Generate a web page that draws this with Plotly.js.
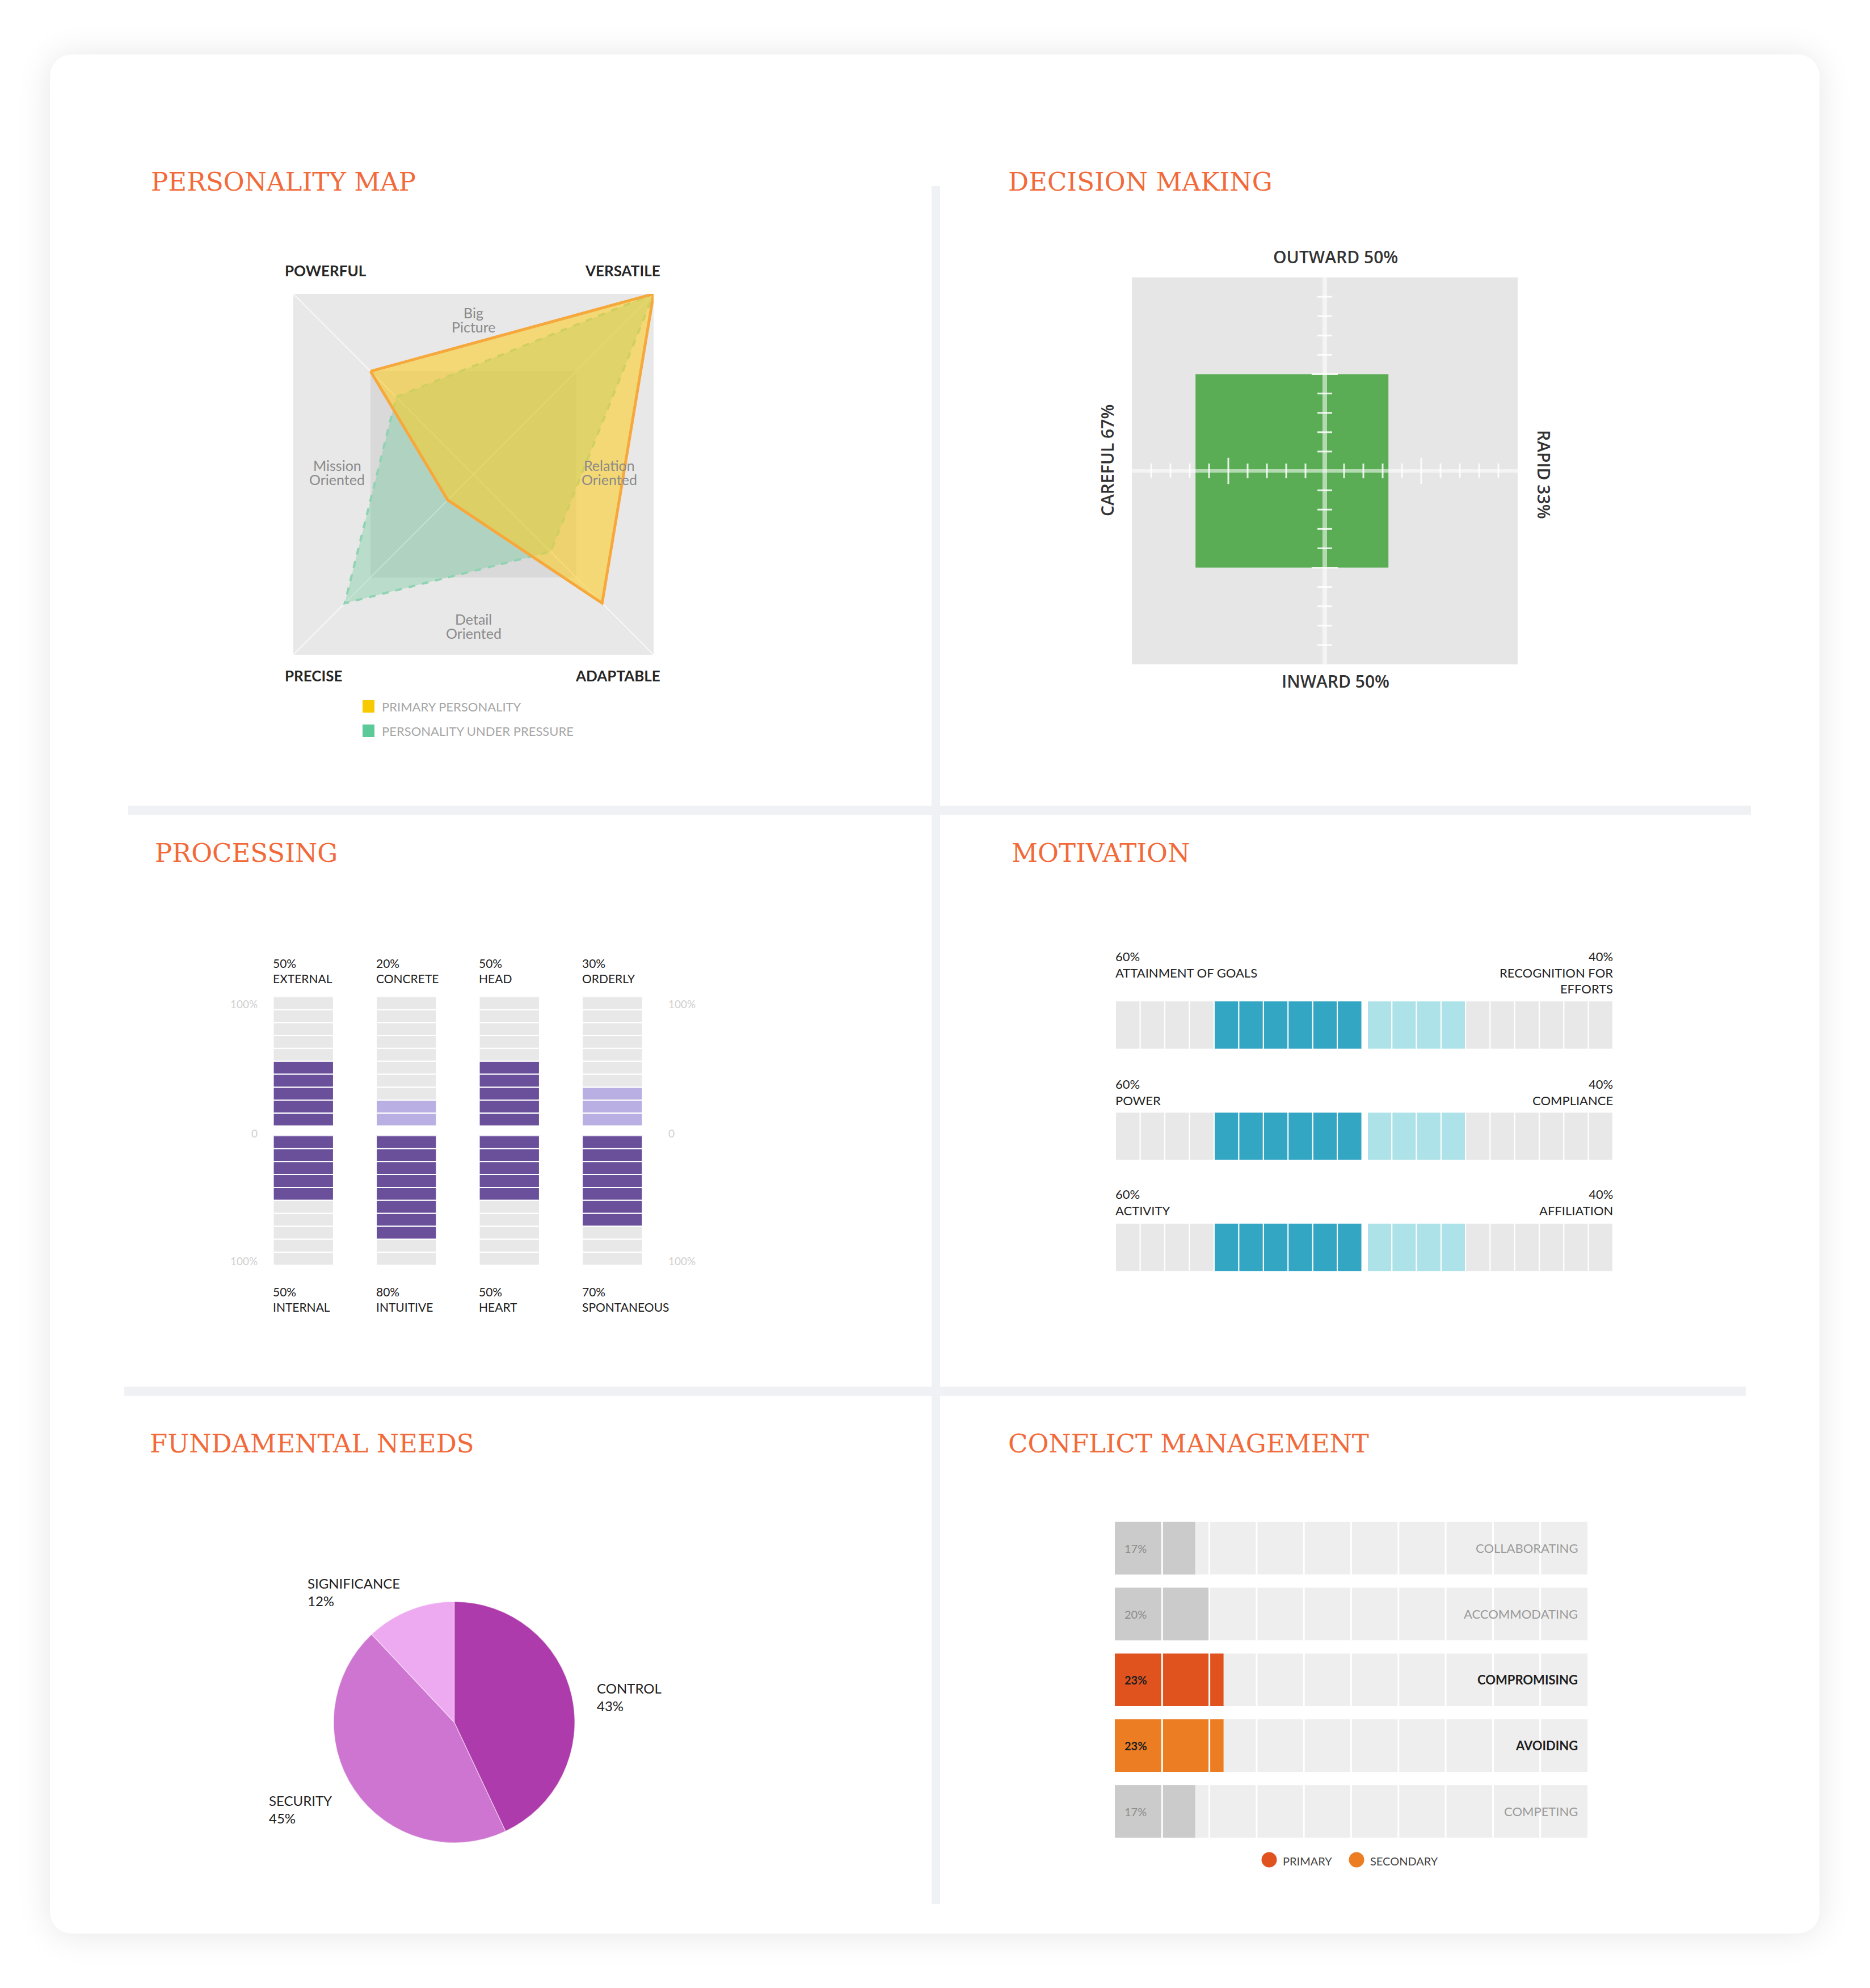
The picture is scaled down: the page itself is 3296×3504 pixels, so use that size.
<!DOCTYPE html>
<html><head><meta charset="utf-8">
<script src="https://cdn.plot.ly/plotly-3.0.1.min.js"></script>
<style>
html,body{margin:0;padding:0;background:#fff;width:3296px;height:3504px;overflow:hidden;}
#card{position:absolute;left:88px;top:96px;width:3119px;height:3312px;border-radius:38px;background:#fff;box-shadow:0 2px 60px rgba(0,0,0,0.10);}
#chart{position:absolute;left:0;top:0;width:3296px;height:3504px;}
</style></head><body>
<div id="card"></div><div id="chart"></div>
<script>
// ---------------- DATA ----------------
// Personality map (scale 0..7 on each diagonal axis)
const mapAxes = ['POWERFUL', 'VERSATILE', 'ADAPTABLE', 'PRECISE'];
const primaryPersonality = [4, 7, 5, 1];
const pressurePersonality = [3, 7, 3, 5];
const mapScaleMax = 7;
const mapSideLabels = ['Big<br>Picture', 'Relation<br>Oriented', 'Detail<br>Oriented', 'Mission<br>Oriented'];
const mapLegend = ['PRIMARY PERSONALITY', 'PERSONALITY UNDER PRESSURE'];

// Decision making
const decisionLabels = ['OUTWARD', 'INWARD', 'CAREFUL', 'RAPID'];
const decisionValues = [50, 50, 67, 33];

// Processing
const procTopLabels = ['EXTERNAL', 'CONCRETE', 'HEAD', 'ORDERLY'];
const procTopValues = [50, 20, 50, 30];
const procBottomLabels = ['INTERNAL', 'INTUITIVE', 'HEART', 'SPONTANEOUS'];
const procBottomValues = [50, 80, 50, 70];
const procScaleLabels = ['100%', '0', '100%'];

// Motivation
const motLeftLabels = ['ATTAINMENT OF GOALS', 'POWER', 'ACTIVITY'];
const motLeftValues = [60, 60, 60];
const motRightLabels = ['RECOGNITION FOR<br>EFFORTS', 'COMPLIANCE', 'AFFILIATION'];
const motRightValues = [40, 40, 40];

// Fundamental needs
const needsLabels = ['CONTROL', 'SECURITY', 'SIGNIFICANCE'];
const needsValues = [43, 45, 12];

// Conflict management
const conflictLabels = ['COLLABORATING', 'ACCOMMODATING', 'COMPROMISING', 'AVOIDING', 'COMPETING'];
const conflictValues = [17, 20, 23, 23, 17];
const conflictRoles = ['', '', 'primary', 'secondary', ''];
const conflictLegend = ['PRIMARY', 'SECONDARY'];

const sectionTitles = ['PERSONALITY MAP', 'DECISION MAKING', 'PROCESSING', 'MOTIVATION', 'FUNDAMENTAL NEEDS', 'CONFLICT MANAGEMENT'];

// ---------------- HELPERS ----------------
const W = 3296, H = 3504;
const PX = v => v / W, PY = v => 1 - v / H;
const FONT = 'Lato, "Open Sans", sans-serif';
const TITLE_FONT = '"DejaVu Serif", serif';
const ORANGE = '#f26a3a';
const GREY = '#e8e8e8';

const traces = [], shapes = [], ann = [];
function rectPx(x0, y0, x1, y1, color) {
  shapes.push({type: 'rect', xref: 'paper', yref: 'paper', x0: PX(x0), x1: PX(x1), y0: PY(y1), y1: PY(y0),
    fillcolor: color, line: {width: 0}, layer: 'below'});
}
function textPx(x, y, text, opts, font) {
  ann.push(Object.assign({xref: 'paper', yref: 'paper', x: PX(x), y: PY(y), text: text, showarrow: false,
    xanchor: 'left', yanchor: 'middle', font: Object.assign({family: FONT, size: 21, color: '#222'}, font || {})}, opts || {}));
}

// dividers
rectPx(1642, 328, 1657, 3356, '#f0f1f5');
rectPx(226, 1420, 3086, 1436, '#f0f1f5');
rectPx(219, 2444, 3077, 2460, '#f0f1f5');

// titles
const titlePos = [[264, 320], [1775, 320], [271, 1503], [1781, 1503], [262, 2544], [1775, 2544]];
sectionTitles.forEach((t, i) => textPx(titlePos[i][0], titlePos[i][1], t, {}, {family: TITLE_FONT, size: 45, color: ORANGE}));

// ---------------- PERSONALITY MAP ----------------
const dirs = {POWERFUL: [-1, 1], VERSATILE: [1, 1], ADAPTABLE: [1, -1], PRECISE: [-1, -1]};
function kite(vals) {
  const xs = [], ys = [];
  mapAxes.forEach((a, i) => { xs.push(dirs[a][0] * vals[i] / mapScaleMax); ys.push(dirs[a][1] * vals[i] / mapScaleMax); });
  xs.push(xs[0]); ys.push(ys[0]);
  return {xs, ys};
}
shapes.push({type: 'rect', xref: 'x', yref: 'y', x0: -1, x1: 1, y0: -1, y1: 1, fillcolor: '#e8e8e8', line: {width: 0}, layer: 'below'});
shapes.push({type: 'rect', xref: 'x', yref: 'y', x0: -4 / 7, x1: 4 / 7, y0: -4 / 7, y1: 4 / 7, fillcolor: '#d9d9d9', line: {width: 0}, layer: 'below'});
shapes.push({type: 'line', xref: 'x', yref: 'y', x0: -1, y0: -1, x1: 1, y1: 1, line: {color: 'rgba(255,255,255,0.9)', width: 1.5}, layer: 'below'});
shapes.push({type: 'line', xref: 'x', yref: 'y', x0: -1, y0: 1, x1: 1, y1: -1, line: {color: 'rgba(255,255,255,0.9)', width: 1.5}, layer: 'below'});
const kp = kite(pressurePersonality), kq = kite(primaryPersonality);
traces.push({type: 'scatter', x: kp.xs, y: kp.ys, xaxis: 'x', yaxis: 'y', mode: 'lines', fill: 'toself',
  fillcolor: 'rgba(100,200,150,0.35)', line: {color: '#8fd3b2', width: 4, dash: 'dash'}, hoverinfo: 'skip', showlegend: false});
traces.push({type: 'scatter', x: kq.xs, y: kq.ys, xaxis: 'x', yaxis: 'y', mode: 'lines', fill: 'toself',
  fillcolor: 'rgba(250,205,40,0.6)', line: {color: '#f6a83c', width: 5}, hoverinfo: 'skip', showlegend: false});
const sidePos = [[0, 0.858], [0.755, 0.01], [0, -0.84], [-0.757, 0.01]];
mapSideLabels.forEach((t, i) => {
  t.split('<br>').forEach((line, j, arr) => ann.push({xref: 'x', yref: 'y', x: sidePos[i][0], y: sidePos[i][1], text: line,
    showarrow: false, xanchor: 'center', yanchor: 'middle', yshift: ((arr.length - 1) / 2 - j) * 25,
    font: {family: FONT, size: 25, color: '#8a8a8a'}}));
});
const cornerPos = {POWERFUL: [500, 477, 'left'], VERSATILE: [1166, 477, 'right'], ADAPTABLE: [1166, 1191, 'right'], PRECISE: [500, 1191, 'left']};
mapAxes.forEach(a => textPx(cornerPos[a][0], cornerPos[a][1], a, {xanchor: cornerPos[a][2]}, {size: 26, color: '#262626', weight: 700}));
const legCol = ['#f6c900', '#5cc998'], legY = [1245, 1288];
mapLegend.forEach((t, i) => {
  rectPx(639, legY[i] - 11, 660, legY[i] + 11, legCol[i]);
  textPx(671, legY[i], t, {}, {size: 22, color: '#a6a6a6'});
});

// ---------------- DECISION MAKING ----------------
shapes.push({type: 'rect', xref: 'x2', yref: 'y2', x0: -100, x1: 100, y0: -100, y1: 100, fillcolor: '#e6e6e6', line: {width: 0}, layer: 'below'});
const [dOut, dIn, dCare, dRap] = decisionValues;
traces.push({type: 'scatter', xaxis: 'x2', yaxis: 'y2', x: [-dCare, dRap, dRap, -dCare, -dCare], y: [-dIn, -dIn, dOut, dOut, -dIn],
  mode: 'lines', fill: 'toself', fillcolor: '#5aad55', line: {width: 0, color: '#5aad55'}, hoverinfo: 'skip', showlegend: false});
shapes.push({type: 'line', xref: 'x2', yref: 'y2', x0: -100, x1: 100, y0: 0, y1: 0, line: {color: 'rgba(255,255,255,0.55)', width: 6}});
shapes.push({type: 'line', xref: 'x2', yref: 'y2', x0: 0, x1: 0, y0: -100, y1: 100, line: {color: 'rgba(255,255,255,0.55)', width: 8}});
for (let v = -90; v <= 90; v += 10) {
  if (v === 0) continue;
  const h = Math.abs(v) === 50 ? 6.8 : 3.8;
  shapes.push({type: 'line', xref: 'x2', yref: 'y2', x0: v, x1: v, y0: -h, y1: h, line: {color: 'rgba(255,255,255,0.85)', width: 3}});
  shapes.push({type: 'line', xref: 'x2', yref: 'y2', x0: -h, x1: h, y0: v, y1: v, line: {color: 'rgba(255,255,255,0.85)', width: 3}});
}
const dFont = {family: '"Open Sans", sans-serif', size: 30, color: '#333', weight: 600};
textPx(2354, 452, decisionLabels[0] + ' ' + dOut + '%', {xanchor: 'center'}, dFont);
textPx(2354, 1200, decisionLabels[1] + ' ' + dIn + '%', {xanchor: 'center'}, dFont);
textPx(1952, 811, decisionLabels[2] + ' ' + dCare + '%', {xanchor: 'center', textangle: -90}, dFont);
textPx(2722, 836, decisionLabels[3] + ' ' + dRap + '%', {xanchor: 'center', textangle: 90}, dFont);

// ---------------- PROCESSING ----------------
const P_DARK = '#6a509b', P_LIGHT = '#b9afe3';
function procTrace(vals, other, yax, xax) {
  const x = [], base = [], y = [], col = [];
  vals.forEach((v, c) => {
    const fill = v >= other[c] ? P_DARK : P_LIGHT;
    for (let i = 0; i < 10; i++) { x.push(c); base.push(i * 10); y.push(10); col.push(i < v / 10 ? fill : GREY); }
  });
  return {type: 'bar', x, y, base, width: 0.586, xaxis: xax, yaxis: yax, marker: {color: col, line: {color: '#fff', width: 2}},
    hoverinfo: 'skip', showlegend: false};
}
traces.push(procTrace(procTopValues, procBottomValues, 'y3', 'x3'));
traces.push(procTrace(procBottomValues, procTopValues, 'y4', 'x4'));
procTopLabels.forEach((l, c) => ann.push({xref: 'x3', yref: 'paper', x: c - 0.305, y: PY(1683), text: procTopValues[c] + '%<br>' + l,
  showarrow: false, xanchor: 'left', yanchor: 'top', align: 'left', font: {family: FONT, size: 21, color: '#222'}}));
procBottomLabels.forEach((l, c) => ann.push({xref: 'x3', yref: 'paper', x: c - 0.305, y: PY(2262), text: procBottomValues[c] + '%<br>' + l,
  showarrow: false, xanchor: 'left', yanchor: 'top', align: 'left', font: {family: FONT, size: 21, color: '#222'}}));
const scaleY = [1770, 1997, 2222];
procScaleLabels.forEach((t, i) => {
  textPx(456, scaleY[i], t, {xanchor: 'right'}, {size: 19, color: '#cfcfcf'});
  textPx(1176, scaleY[i], t, {xanchor: 'left'}, {size: 19, color: '#cfcfcf'});
});

// ---------------- MOTIVATION ----------------
const M_DARK = '#33a6c4', M_LIGHT = '#ade3e8';
function motTrace(vals, other, xax) {
  const x = [], base = [], y = [], col = [];
  vals.forEach((v, r) => {
    const fill = v >= other[r] ? M_DARK : M_LIGHT;
    for (let i = 0; i < 10; i++) { y.push(r); base.push(i * 10); x.push(10); col.push(i < v / 10 ? fill : GREY); }
  });
  return {type: 'bar', orientation: 'h', x, y, base, width: 0.436, xaxis: xax, yaxis: 'y5',
    marker: {color: col, line: {color: '#fff', width: 2}}, hoverinfo: 'skip', showlegend: false};
}
traces.push(motTrace(motLeftValues, motRightValues, 'x5'));
traces.push(motTrace(motRightValues, motLeftValues, 'x6'));
const motLabelTop = [1670, 1895, 2089];
motLeftLabels.forEach((l, r) => {
  textPx(1964, motLabelTop[r], motLeftValues[r] + '%<br>' + l, {yanchor: 'top', align: 'left'}, {size: 22});
  textPx(2845, motLabelTop[r], motRightValues[r] + '%<br>' + motRightLabels[r], {xanchor: 'right', yanchor: 'top', align: 'right'}, {size: 22});
});

// ---------------- FUNDAMENTAL NEEDS ----------------
traces.push({type: 'pie', values: needsValues, labels: needsLabels, sort: false, direction: 'clockwise', rotation: 0,
  textinfo: 'none', hoverinfo: 'skip', showlegend: false,
  marker: {colors: ['#ad3bab', '#cd75d0', '#eeaaf1'], line: {color: 'rgba(255,255,255,0.45)', width: 1.5}},
  domain: {x: [PX(588), PX(1013)], y: [PY(3248), PY(2823)]}});
const needPos = [[1050, 2959], [472, 3157], [540, 2774]];
needsLabels.forEach((l, i) => textPx(needPos[i][0], needPos[i][1], l + '<br>' + needsValues[i] + '%', {yanchor: 'top', align: 'left'}, {size: 24}));

// ---------------- CONFLICT MANAGEMENT ----------------
const C_COL = {primary: '#e0531f', secondary: '#ec7d22', '': '#cbcbcb'};
const rows = conflictLabels.map((_, i) => i);
traces.push({type: 'bar', orientation: 'h', y: rows, x: rows.map(() => 100), base: 0, width: 0.8, xaxis: 'x7', yaxis: 'y7',
  marker: {color: '#eeeeee', line: {width: 0}}, hoverinfo: 'skip', showlegend: false});
traces.push({type: 'bar', orientation: 'h', y: rows, x: conflictValues, base: 0, width: 0.8, xaxis: 'x7', yaxis: 'y7',
  marker: {color: conflictRoles.map(r => C_COL[r]), line: {width: 0}}, hoverinfo: 'skip', showlegend: false});
for (let k = 1; k < 10; k++) shapes.push({type: 'line', xref: 'x7', yref: 'y7 domain', x0: k * 10, x1: k * 10, y0: 0, y1: 1,
  line: {color: '#ffffff', width: 3}});
conflictLabels.forEach((l, r) => {
  const on = conflictRoles[r] !== '';
  ann.push({xref: 'x7', yref: 'y7', x: 1.8, y: r, text: conflictValues[r] + '%', showarrow: false, xanchor: 'left', yanchor: 'middle',
    font: {family: FONT, size: 20, color: on ? '#1e1e1e' : '#8c8c8c', weight: on ? 700 : 400}});
  ann.push({xref: 'x7', yref: 'y7', x: 98.2, y: r, text: l, showarrow: false, xanchor: 'right', yanchor: 'middle',
    font: {family: FONT, size: 22, color: on ? '#1e1e1e' : '#9a9a9a', weight: on ? 700 : 400}});
});
const legCx = [2237, 2391], legColors = [C_COL.primary, C_COL.secondary];
conflictLegend.forEach((t, i) => {
  shapes.push({type: 'circle', xref: 'paper', yref: 'paper', x0: PX(legCx[i] - 13.5), x1: PX(legCx[i] + 13.5),
    y0: PY(3278 + 13.5), y1: PY(3278 - 13.5), fillcolor: legColors[i], line: {width: 0}});
  textPx(legCx[i] + 22, 3280, t, {}, {size: 20, color: '#444'});
});

// ---------------- LAYOUT ----------------
const hid = {visible: false, fixedrange: true};
const layout = {
  width: W, height: H, margin: {l: 0, r: 0, t: 0, b: 0},
  paper_bgcolor: 'rgba(0,0,0,0)', plot_bgcolor: 'rgba(0,0,0,0)',
  barmode: 'overlay', showlegend: false,
  xaxis: Object.assign({domain: [PX(517), PX(1152)], range: [-1, 1], anchor: 'y'}, hid),
  yaxis: Object.assign({domain: [PY(1154), PY(518)], range: [-1, 1], anchor: 'x'}, hid),
  xaxis2: Object.assign({domain: [PX(1995), PX(2675)], range: [-100, 100], anchor: 'y2'}, hid),
  yaxis2: Object.assign({domain: [PY(1171), PY(489)], range: [-100, 100], anchor: 'x2'}, hid),
  xaxis3: Object.assign({domain: [PX(444), PX(1170)], range: [-0.5, 3.5], anchor: 'y3'}, hid),
  yaxis3: Object.assign({domain: [PY(1984.5), PY(1756.6)], range: [0, 100], anchor: 'x3'}, hid),
  xaxis4: Object.assign({domain: [PX(444), PX(1170)], range: [-0.5, 3.5], anchor: 'y4'}, hid),
  yaxis4: Object.assign({domain: [PY(2230), PY(2001.6)], range: [100, 0], anchor: 'x4'}, hid),
  xaxis5: Object.assign({domain: [PX(1966), PX(2400.5)], range: [100, 0], anchor: 'y5'}, hid),
  xaxis6: Object.assign({domain: [PX(2410), PX(2843)], range: [0, 100], anchor: 'y5'}, hid),
  yaxis5: Object.assign({domain: [PY(2296.5), PY(1708.7)], range: [2.5, -0.5], anchor: 'x5'}, hid),
  xaxis7: Object.assign({domain: [PX(1965), PX(2798)], range: [0, 100], anchor: 'y7'}, hid),
  yaxis7: Object.assign({domain: [PY(3250.5), PY(2671)], range: [4.5, -0.5], anchor: 'x7'}, hid),
  shapes: shapes, annotations: ann
};
Plotly.newPlot('chart', traces, layout, {staticPlot: true, displayModeBar: false});
</script></body></html>
